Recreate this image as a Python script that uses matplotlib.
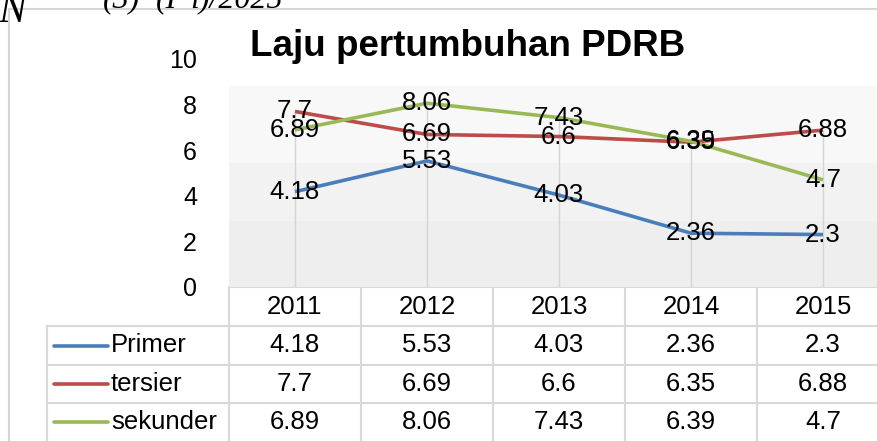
import matplotlib
matplotlib.use("Agg")
import matplotlib.pyplot as plt

plt.rcParams['font.family'] = ['Liberation Sans', 'DejaVu Sans']

years = ["2011", "2012", "2013", "2014", "2015"]
series_names = ["Primer", "tersier", "sekunder"]
primer = [4.18, 5.53, 4.03, 2.36, 2.3]
tersier = [7.7, 6.69, 6.6, 6.35, 6.88]
sekunder = [6.89, 8.06, 7.43, 6.39, 4.7]
colors = ["#4a7ebb", "#be4b48", "#98b954"]
yticks = [0, 2, 4, 6, 8, 10]
title = "Laju pertumbuhan PDRB"

series = [primer, tersier, sekunder]

W, H = 878, 441
fig = plt.figure(figsize=(W / 100, H / 100), dpi=100)

# overlay axes in pixel coordinates for table, border and header text
ax_t = fig.add_axes([0, 0, 1, 1], zorder=0)
ax_t.set_xlim(0, W)
ax_t.set_ylim(H, 0)
ax_t.axis("off")

# main chart axes
left_px, right_px = 229, 889
top_px, bot_px = 59, 287
ax = fig.add_axes([left_px / W, (H - bot_px) / H, (right_px - left_px) / W, (bot_px - top_px) / H], zorder=1)
ax.patch.set_alpha(0)
n = len(years)
x = list(range(n))
ax.set_xlim(-0.5, n - 0.5)
ax.set_ylim(0, 10)

# plot area background bands
ax.axhspan(0, 2.9, color="#eeeeee", zorder=0, lw=0)
ax.axhspan(2.9, 5.45, color="#f2f2f2", zorder=0, lw=0)
ax.axhspan(5.45, 8.8, color="#f8f8f8", zorder=0, lw=0)

# drop lines
maxv = [max(vals) for vals in zip(*series)]
ax.vlines(x, 0, maxv, color="#d4d4d4", lw=1.0, zorder=1)

for vals, c in zip(series, colors):
    ax.plot(x, vals, color=c, lw=2.6, zorder=3, solid_capstyle="butt")
for vals in series:
    for xi, v in zip(x, vals):
        ax.text(xi, v, f"{v:g}", ha="center", va="center", fontsize=18.5, color="black", zorder=5)

ax.set_xticks([])
ax.set_yticks(yticks)
ax.set_yticklabels([str(t) for t in yticks], fontsize=18)
ax.tick_params(axis="y", length=0, pad=23)
for s in ax.spines.values():
    s.set_visible(False)

# title
fig.text(468 / W, 1 - 46 / H, title, ha="center", va="center", fontsize=26.5, fontweight="bold")

# outer chart border
bc = "#d6d6d6"
ax_t.plot([9, 9], [9, H], color=bc, lw=1.5)
ax_t.plot([9, W], [9, 9], color=bc, lw=1.5)

# clipped header text at top
ax_t.text(-2, 22, "N", fontsize=30, family="Liberation Serif", style="italic", va="baseline")
ax_t.text(103, 7, "(3)", fontsize=23, family="Liberation Serif", style="italic", va="baseline")
ax_t.text(156, 7, "(I", fontsize=23, family="Liberation Serif", style="italic", va="baseline")
ax_t.text(190, 7, "i)/2025", fontsize=23, family="Liberation Serif", style="italic", va="baseline")

# data table
gc = "#d9d9d9"
col_w = (right_px - left_px) / n
leg_left = 47
row_edges = [287, 326, 365, 403, 441]
ax_t.plot([left_px, W], [row_edges[0], row_edges[0]], color=gc, lw=1.5)
for ry in row_edges[1:4]:
    ax_t.plot([leg_left, W], [ry, ry], color=gc, lw=1.5)
ax_t.plot([leg_left, leg_left], [row_edges[1], H], color=gc, lw=1.5)
for i in range(n + 1):
    xv = left_px + i * col_w
    ax_t.plot([xv, xv], [row_edges[0], H], color=gc, lw=1.5)

fs = 18.5
hy = (row_edges[0] + row_edges[1]) / 2
for i, yr in enumerate(years):
    ax_t.text(left_px + (i + 0.5) * col_w, hy, yr, ha="center", va="center", fontsize=fs)
for r, (name, vals, c) in enumerate(zip(series_names, series, colors)):
    cy = (row_edges[r + 1] + row_edges[r + 2]) / 2
    ax_t.plot([54, 108], [cy, cy], color=c, lw=2.6, solid_capstyle="round")
    ax_t.text(111, cy, name, ha="left", va="center", fontsize=fs)
    for i, v in enumerate(vals):
        ax_t.text(left_px + (i + 0.5) * col_w, cy, f"{v:g}", ha="center", va="center", fontsize=fs)

fig.savefig("out.png", dpi=100)
